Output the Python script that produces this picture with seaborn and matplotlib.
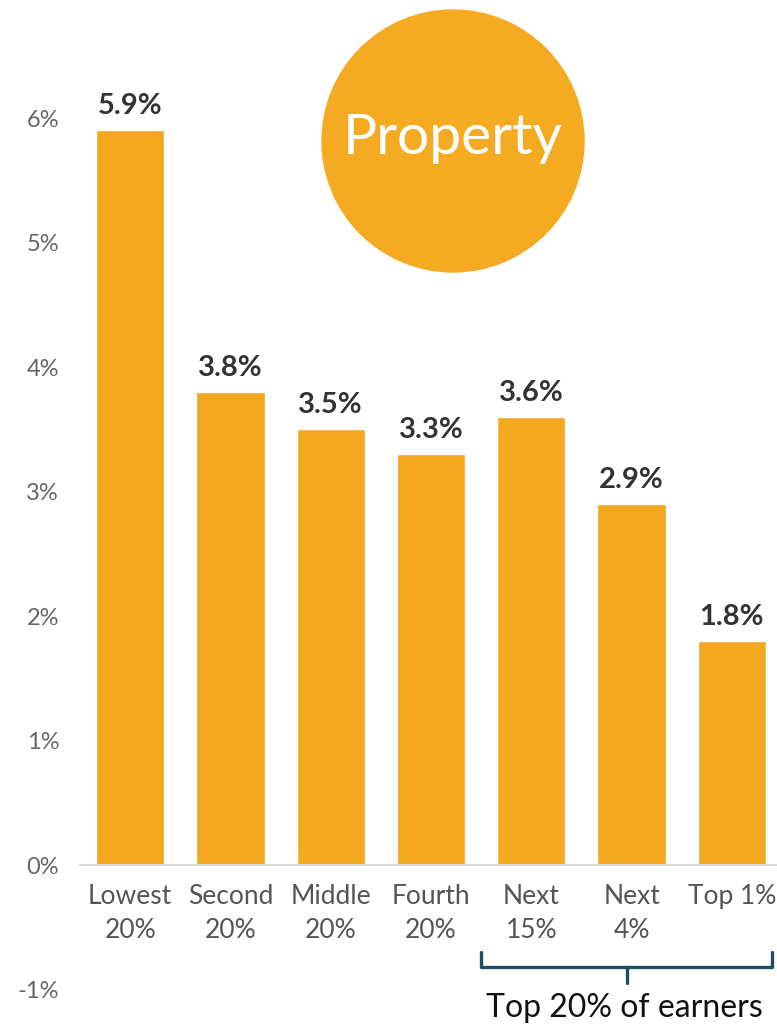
import numpy as np
import pandas as pd
import matplotlib.pyplot as plt
from matplotlib.patches import Ellipse
import seaborn as sns

# data
groups = ['Lowest\n20%', 'Second\n20%', 'Middle\n20%', 'Fourth\n20%', 'Next\n15%', 'Next\n4%', 'Top 1%']
values = [5.9, 3.8, 3.5, 3.3, 3.6, 2.9, 1.8]
value_labels = ['5.9%', '3.8%', '3.5%', '3.3%', '3.6%', '2.9%', '1.8%']
yticks = [-1, 0, 1, 2, 3, 4, 5, 6]
ytick_labels = ['-1%', '0%', '1%', '2%', '3%', '4%', '5%', '6%']

orange = '#F3A820'
teal = '#1D4F61'

sns.set_style('white')
plt.rcParams['font.family'] = ['Lato', 'DejaVu Sans']

fig = plt.figure(figsize=(7.77, 10.28), dpi=100)
ax = fig.add_axes([80 / 777, 0, 697 / 777, 1])

df = pd.DataFrame({'group': groups, 'value': values})
sns.barplot(data=df, x='group', y='value', color=orange, saturation=1, width=0.68, ax=ax)

ax.set_xlim(-0.5, 6.45)
ax.set_ylim(-1.309, 6.948)
ax.set_xlabel('')
ax.set_ylabel('')

# axes style: only the light baseline at 0
for s in ['top', 'right', 'left']:
    ax.spines[s].set_visible(False)
ax.spines['bottom'].set_position(('data', 0))
ax.spines['bottom'].set_color('#dcdcdc')
ax.spines['bottom'].set_linewidth(1.5)

ax.set_yticks(yticks)
ax.set_yticklabels(ytick_labels)
ax.tick_params(axis='y', length=0, pad=15, labelsize=17, labelcolor='#666666')
ax.tick_params(axis='x', length=0, pad=14, labelsize=19, labelcolor='#555555')
for lab in ax.get_xticklabels():
    lab.set_linespacing(1.45)

# value labels
for i, (v, t) in enumerate(zip(values, value_labels)):
    ax.annotate(t, (i, v), xytext=(0, 8), textcoords='offset points',
                ha='center', va='bottom', fontsize=21, fontweight='bold', color='#333333')

# bracket for top earners
bx0, bx1, bmid = 3.5, 6.4, 4.95
ax.plot([bx0, bx0, bx1, bx1], [-0.70, -0.82, -0.82, -0.70], color=teal, lw=2.4,
        solid_joinstyle='round', clip_on=False)
ax.plot([bmid, bmid], [-0.82, -0.95], color=teal, lw=2.4, clip_on=False)
ax.text(bmid - 0.02, -1.145, 'Top 20% of earners', ha='center', va='center', fontsize=23, color='#111111')

# title bubble, round in figure space
bubble = Ellipse((453 / 777, 1 - 141 / 1028), 262 / 777, 262 / 1028,
                 transform=fig.transFigure, color='#F4AB21', zorder=5)
fig.patches.append(bubble)
fig.text(453 / 777, 1 - 138 / 1028, 'Property', ha='center', va='center', fontsize=41,
         color='white', zorder=6)

fig.savefig('out.png', dpi=100)
